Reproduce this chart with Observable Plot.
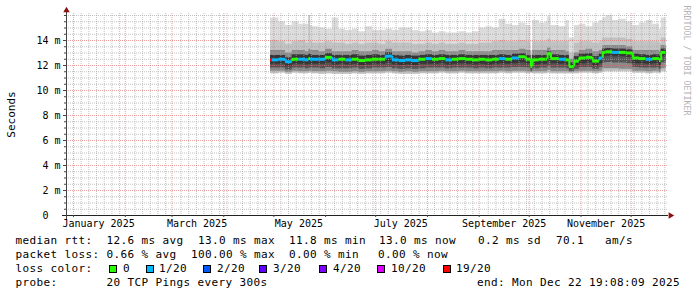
<!DOCTYPE html>
<html><head><meta charset="utf-8">
<script src="https://cdn.jsdelivr.net/npm/d3@7"></script>
<script src="https://cdn.jsdelivr.net/npm/@observablehq/plot@0.6"></script>
<style>
body{margin:0;background:#fff;width:697px;height:297px;position:relative;overflow:hidden;font-family:"DejaVu Sans Mono",monospace;}
#chart svg{display:block;background:#fff}
.lg{position:absolute;font-size:11px;letter-spacing:0.38px;line-height:14px;white-space:pre;color:#000}
.box{position:absolute;width:8px;height:8px;border:1px solid #000;box-sizing:border-box}
</style></head><body>
<div id="chart"></div>
<div id="legend"></div>
<script>
// ---- data ----
const dates = ["04-29","04-30","05-04","05-08","05-12","05-16","05-20","05-22","05-23","05-24","05-28",
"06-01","06-05","06-09","06-13","06-17","06-21","06-25","06-29",
"07-03","07-07","07-11","07-15","07-19","07-23","07-27","07-31",
"08-04","08-08","08-12","08-16","08-20","08-24","08-28",
"09-01","09-05","09-09","09-13","09-17","09-21","09-25","09-29",
"10-02","10-03","10-07","10-11","10-12","10-14","10-19","10-23","10-25","10-28","10-31",
"11-04","11-08","11-12","11-14","11-16","11-20","11-24","11-28",
"12-02","12-06","12-10","12-14","12-18","12-19","12-22"];
const median = [12.45,12.45,12.5,12.3,12.5,12.5,12.45,12.55,12.5,12.5,12.5,
12.65,12.45,12.5,12.45,12.5,12.4,12.45,12.5,
12.5,12.75,12.45,12.4,12.45,12.4,12.5,12.55,
12.5,12.55,12.45,12.5,12.55,12.5,12.45,
12.5,12.45,12.5,12.55,12.5,12.6,12.7,12.5,
11.9,12.45,12.5,12.5,12.95,12.55,12.5,12.45,11.9,12.35,12.6,
12.65,12.35,12.6,13.05,13.1,13.05,13.05,13.0,
12.6,12.55,12.5,12.55,12.4,13.05,13.05];
const loss = [6,1,1,1,0,1,1,0,1,1,1,
0,1,0,1,0,0,0,0,
0,1,1,1,1,1,0,1,
0,0,1,0,0,0,0,
0,0,0,1,0,1,0,0,
0,0,0,0,0,0,1,0,0,0,0,
0,0,1,0,0,1,0,0,
0,0,1,0,0,0,0];
const smokeMax = [15.8,15.8,15.5,15.2,15.5,15.3,15.3,16.0,15.2,15.1,15.0,
14.9,15.8,14.9,14.8,14.9,14.7,15.1,14.8,
14.8,14.9,14.8,15.0,15.0,14.8,14.7,14.8,
14.6,14.7,14.6,14.6,14.7,14.6,14.7,
15.0,15.1,15.0,15.7,15.3,15.2,15.4,15.2,
13.2,15.6,15.4,15.5,15.9,15.2,15.1,15.6,14.2,15.2,15.3,
15.1,15.4,15.6,15.8,16.0,15.6,15.7,15.5,
15.2,15.4,15.6,15.3,14.9,15.8,15.8];
const smokeU2 = [14.0,14.0,13.9,13.7,13.9,14.0,13.8,16.0,13.9,13.8,13.8,
13.9,13.8,13.8,13.7,13.8,13.7,13.8,13.8,
13.7,13.9,13.8,13.8,13.8,13.7,13.7,13.8,
13.7,13.8,13.7,13.7,13.8,13.7,13.7,
13.8,13.8,13.9,14.0,13.9,13.9,14.0,13.9,
12.9,13.9,13.9,13.9,14.1,13.9,13.9,13.9,13.0,13.8,13.9,
13.9,13.8,13.9,14.2,14.2,14.2,14.2,14.1,
13.9,13.9,13.9,13.9,13.8,14.2,14.2];
const smokeU3 = [13.2,13.2,13.2,13.0,13.2,13.2,13.1,13.3,13.2,13.2,13.1,
13.3,13.1,13.1,13.1,13.2,13.1,13.1,13.2,
13.1,13.3,13.1,13.1,13.1,13.0,13.1,13.2,
13.1,13.2,13.1,13.1,13.2,13.1,13.1,
13.1,13.1,13.2,13.2,13.2,13.2,13.3,13.2,
12.5,13.2,13.2,13.2,13.4,13.2,13.2,13.1,12.5,13.0,13.2,
13.3,13.1,13.2,13.6,13.6,13.6,13.6,13.5,
13.2,13.2,13.2,13.2,13.1,13.6,13.6];
const smokeU4 = [12.8,12.8,12.8,12.6,12.85,12.85,12.8,12.9,12.85,12.8,12.8,
12.95,12.8,12.8,12.8,12.85,12.75,12.8,12.85,
12.8,13.0,12.8,12.75,12.8,12.75,12.8,12.85,
12.8,12.85,12.8,12.8,12.85,12.8,12.8,
12.8,12.8,12.8,12.85,12.8,12.9,12.95,12.8,
12.2,12.8,12.8,12.8,13.1,12.85,12.8,12.8,12.2,12.7,12.9,
12.95,12.7,12.9,13.3,13.35,13.3,13.3,13.25,
12.9,12.85,12.8,12.85,12.75,13.3,13.3];
const smokeL4 = [12.1,12.1,12.1,11.9,12.1,12.1,12.05,12.1,12.1,12.1,12.1,
12.2,12.05,12.1,12.05,12.1,12.0,12.05,12.1,
12.1,12.2,12.05,12.0,12.05,12.0,12.1,12.1,
12.1,12.15,12.05,12.1,12.15,12.1,12.05,
12.1,12.05,12.1,12.15,12.1,12.15,12.2,12.1,
11.7,12.05,12.1,12.1,12.3,12.15,12.1,12.05,11.7,11.95,12.15,
12.2,11.95,12.15,12.7,12.75,12.7,12.7,12.65,
12.15,12.15,12.1,12.15,12.0,12.7,12.7];
const smokeL3 = [11.8,11.8,11.8,11.65,11.8,11.8,11.75,11.8,11.8,11.8,11.75,
11.85,11.75,11.75,11.75,11.8,11.7,11.75,11.8,
11.8,11.85,11.75,11.7,11.75,11.7,11.75,11.8,
11.8,11.8,11.75,11.8,11.8,11.8,11.75,
11.8,11.75,11.8,11.8,11.8,11.85,11.85,11.8,
11.55,11.75,11.8,11.8,11.9,11.8,11.8,11.75,11.55,11.7,11.85,
11.85,11.7,11.85,12.2,12.25,12.2,12.2,12.15,
11.85,11.8,11.8,11.8,11.7,12.2,12.2];
const smokeL2 = [11.55,11.55,11.55,11.45,11.55,11.5,11.5,11.55,11.55,11.5,11.5,
11.55,11.5,11.45,11.45,11.5,11.45,11.5,11.5,
11.5,11.55,11.5,11.45,11.5,11.45,11.5,11.5,
11.5,11.55,11.5,11.5,11.55,11.5,11.5,
11.5,11.5,11.5,11.55,11.5,11.55,11.55,11.5,
11.45,11.5,11.5,11.5,11.6,11.5,11.5,11.5,11.45,11.5,11.55,
11.55,11.5,11.55,11.75,11.75,11.75,11.7,11.7,
11.55,11.55,11.5,11.55,11.45,11.75,11.75];
const smokeMin = [11.35,11.35,11.4,11.3,11.4,11.35,11.35,11.4,11.4,11.35,11.3,
11.35,11.3,11.3,11.3,11.35,11.3,11.35,11.35,
11.35,11.4,11.35,11.3,11.3,11.3,11.35,11.35,
11.35,11.4,11.35,11.35,11.4,11.35,11.35,
11.35,11.35,11.35,11.4,11.35,11.4,11.4,11.35,
11.4,11.35,11.35,11.35,11.4,11.35,11.35,11.35,11.35,11.35,11.4,
11.4,11.35,11.4,11.5,11.5,11.5,11.5,11.5,
11.4,11.4,11.35,11.4,11.35,11.5,11.5];

const lossColors = ["#26ff00","#00b8ff","#0059ff","#5e00ff","#7e00ff","#dd00ff","#ff0000"];
const lossLabels = ["0","1/20","2/20","3/20","4/20","10/20","19/20"];
const yTickValues = [0,2,4,6,8,10,12,14];
const xLabelDates = ["2025-01-16","2025-03-16","2025-05-16","2025-07-16","2025-09-16","2025-11-16"];
const medianStats = ["median rtt:  12.6 ms avg","13.0 ms max","11.8 ms min","13.0 ms now","0.2 ms sd","70.1   am/s"];
const lossStats = ["packet loss: 0.66 % avg","100.00 % max","0.00 % min","0.00 % now"];
const probeText = "probe:       20 TCP Pings every 300s";
const endText = "end: Mon Dec 22 19:08:09 2025";

// ---- build ----
const rows = dates.map((d, i) => ({
  date: new Date("2025-" + d + "T00:00:00Z"), med: median[i], loss: loss[i],
  u1: smokeMax[i], u2: smokeU2[i], u3: smokeU3[i], u4: smokeU4[i],
  l4: smokeL4[i], l3: smokeL3[i], l2: smokeL2[i], l1: smokeMin[i]
}));
const segs = rows.slice(0, -1).map((r, i) => ({x1: r.date, x2: rows[i + 1].date, y: r.med, c: lossColors[r.loss]}));
const verts = rows.slice(1).map((r, i) => ({x: r.date, y1: rows[i].med, y2: r.med, c: lossColors[r.loss]}));

const xStart = new Date("2024-12-27T19:08:09Z"), xEnd = new Date("2025-12-22T19:08:09Z");
const yMax = 16.16;
const monthStarts = d3.utcMonth.range(new Date("2025-01-01T00:00:00Z"), new Date("2025-12-02T00:00:00Z"));
const dayMs = 86400000;
const minorX = d3.range(-1, 80).map(k => new Date(Date.UTC(2025, 0, 1) + k * 4.6 * dayMs))
  .filter(t => t > xStart && t < xEnd && monthStarts.every(m => Math.abs(m - t) > 1.5 * dayMs));
const majorY = yTickValues.slice(1);
const minorY = d3.range(0.5, 16.01, 0.5).filter(v => !majorY.includes(v));

const band = (y1, y2, fill) => Plot.areaY(rows, {x: "date", y1, y2, fill, curve: "step-after"});
const dotted = "1,1";

const chart = Plot.plot({
  width: 697, height: 232,
  marginLeft: 66, marginRight: 30, marginTop: 13, marginBottom: 17,
  style: {fontFamily: "DejaVu Sans Mono", fontSize: "10px", background: "#fff", color: "#000"},
  x: {type: "utc", domain: [xStart, xEnd]},
  y: {domain: [0, yMax]},
  marks: [
    band("l1", "u1", "#dcdcdc"),
    band("l1", "u2", "#c2c2c2"),
    band("l2", "u3", "#8a8a8a"),
    band("l3", "u4", "#545454"),
    band("l4", "u4", "#363636"),
    Plot.gridX(minorX, {stroke: "#a8a8a8", strokeOpacity: 0.7, strokeDasharray: dotted}),
    Plot.gridY(minorY, {stroke: "#a8a8a8", strokeOpacity: 0.7, strokeDasharray: dotted}),
    Plot.gridX(monthStarts, {stroke: "#e06060", strokeOpacity: 0.6, strokeDasharray: dotted}),
    Plot.gridY(majorY, {stroke: "#e06060", strokeOpacity: 0.6, strokeDasharray: dotted}),
    Plot.ruleX(verts, {x: "x", y1: "y1", y2: "y2", stroke: "c", strokeWidth: 2}),
    Plot.ruleY(segs, {x1: "x1", x2: "x2", y: "y", stroke: "c", strokeWidth: 3}),
    Plot.ruleY([0], {stroke: "#222", insetLeft: -4, insetRight: -1}),
    Plot.ruleX([xStart], {stroke: "#444", insetBottom: -4, insetTop: -1}),
    Plot.dot([{x: xEnd, y: 0}], {x: "x", y: "y", symbol: "triangle", r: 2.4, fill: "#8b1010", rotate: 90, dx: 3}),
    Plot.dot([{x: xStart, y: yMax}], {x: "x", y: "y", symbol: "triangle", r: 2.4, fill: "#8b1010", dy: -3}),
    Plot.axisY(yTickValues, {tickSize: 0, tickPadding: 6, fontSize: 10, label: null,
      tickFormat: v => v === 0 ? "0\u00a0\u00a0" : v + " m"}),
    Plot.axisY(minorY, {tickSize: 2, tickFormat: () => "", label: null, stroke: "#444"}),
    Plot.axisY(majorY, {tickSize: 3, tickFormat: () => "", label: null, stroke: "#444"}),
    Plot.axisX(monthStarts, {tickSize: 2, tickFormat: () => "", label: null, stroke: "#444"}),
    Plot.axisX(xLabelDates.map(d => new Date(d + "T00:00:00Z")), {tickSize: 0, tickPadding: 4, fontSize: 10, label: null,
      tickFormat: d3.utcFormat("%B %Y")}),
    Plot.text(["Seconds"], {text: d => d, frameAnchor: "left", rotate: -90, textAnchor: "middle", lineAnchor: "middle", dx: -55, fontSize: 11, fill: "#000"}),
    Plot.text(["RRDTOOL / TOBI OETIKER"], {text: d => d, frameAnchor: "top-right", rotate: 90, textAnchor: "start", lineAnchor: "middle", dx: 19, dy: -8, fontSize: 8.3, fill: "#b4b4b4"})
  ]
});
document.getElementById("chart").appendChild(chart);

// ---- legend below the chart ----
const lg = document.getElementById("legend");
function put(txt, left, top) {
  const s = document.createElement("span");
  s.className = "lg"; s.textContent = txt;
  s.style.left = left + "px"; s.style.top = top + "px";
  lg.appendChild(s);
}
const rowsTop = [233.5, 247.5, 261.5, 275.5];
[15.5, 198, 289, 379, 478, 556].forEach((x, i) => put(medianStats[i], x, rowsTop[0]));
[15.5, 191, 289, 378].forEach((x, i) => put(lossStats[i], x, rowsTop[1]));
put("loss color:", 15.5, rowsTop[2]);
const boxX = [109, 146, 203, 259, 319, 377, 443];
const labX = [123, 159, 217, 273, 333, 391, 456];
lossColors.forEach((c, i) => {
  const b = document.createElement("div");
  b.className = "box"; b.style.background = c;
  b.style.left = boxX[i] + "px"; b.style.top = "265px";
  lg.appendChild(b);
  put(lossLabels[i], labX[i], rowsTop[2]);
});
put(probeText, 15.5, rowsTop[3]);
put(endText, 477, rowsTop[3]);
</script>
</body></html>
